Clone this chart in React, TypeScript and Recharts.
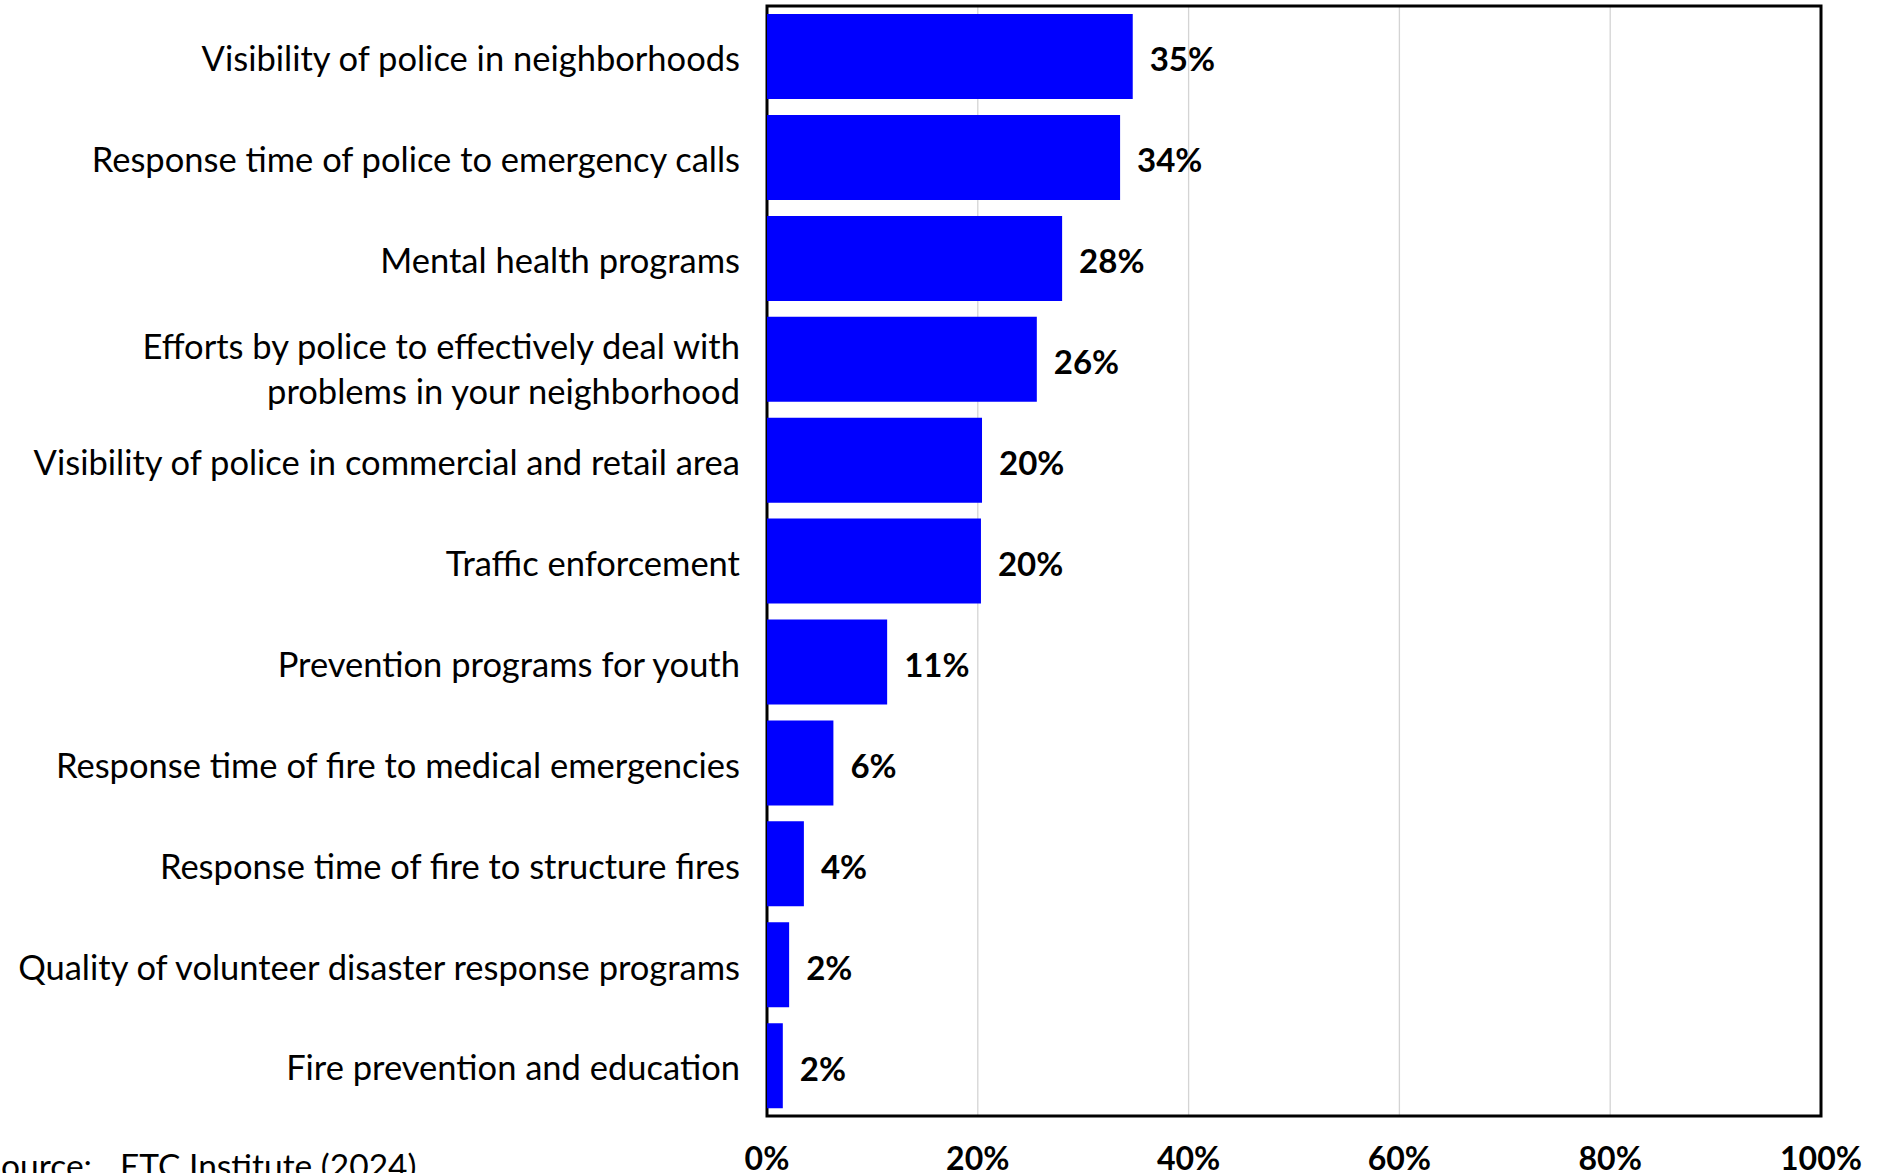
import { BarChart, Bar, XAxis, YAxis, CartesianGrid, LabelList, ReferenceArea } from "recharts";

const categories = [
  "Visibility of police in neighborhoods",
  "Response time of police to emergency calls",
  "Mental health programs",
  "Efforts by police to effectively deal with\nproblems in your neighborhood",
  "Visibility of police in commercial and retail area",
  "Traffic enforcement",
  "Prevention programs for youth",
  "Response time of fire to medical emergencies",
  "Response time of fire to structure fires",
  "Quality of volunteer disaster response programs",
  "Fire prevention and education",
];

const values = [34.7, 33.5, 28.0, 25.6, 20.4, 20.3, 11.4, 6.3, 3.5, 2.1, 1.5];

const xTicks = [0, 20, 40, 60, 80, 100];

const data = categories.map((name, i) => ({ name, value: values[i] }));

const FONT = "Lato, 'Open Sans', sans-serif";

function CategoryTick(props: any) {
  const { x, y, payload } = props;
  const lines = String(payload.value).split("\n");
  const lh = 45;
  // two-line label sits a little low in the original
  const start = y + 2.5 - ((lines.length - 1) * lh) / 2 + (lines.length > 1 ? 7 : 0);
  return (
    <text x={x} textAnchor="end" fontSize={34.5} fontFamily={FONT} fill="#000">
      {lines.map((l, i) => (
        <tspan key={i} x={x} y={start + i * lh} dy="0.36em">
          {l}
        </tspan>
      ))}
    </text>
  );
}

function PercentTick(props: any) {
  const { x, y, payload } = props;
  return (
    <text x={x} y={y + 54} textAnchor="middle" fontSize={32} fontWeight={700} fontFamily={FONT} fill="#000">
      {payload.value}%
    </text>
  );
}

function ValueLabel(props: any) {
  const { x, y, width, height, value } = props;
  return (
    <text
      x={x + width + 17}
      y={y + height / 2 + 3}
      dy="0.36em"
      fontSize={33}
      fontWeight={700}
      fontFamily={FONT}
      fill="#000"
    >
      {Math.round(value)}%
    </text>
  );
}

export default function App() {
  return (
    <div
      style={{
        position: "absolute",
        left: 0,
        top: 0,
        width: 1885,
        height: 1173,
        overflow: "hidden",
        background: "#fff",
        fontFamily: FONT,
      }}
    >
      <BarChart
        width={1885}
        height={1173}
        data={data}
        layout="vertical"
        margin={{ top: 6, right: 64, bottom: 0, left: 0 }}
        barCategoryGap="8%"
      >
        <CartesianGrid horizontal={false} stroke="#d4d4d4" strokeWidth={1.3} />
        <XAxis
          type="number"
          domain={[0, 100]}
          ticks={xTicks}
          interval={0}
          height={57}
          axisLine={false}
          tickLine={false}
          tickSize={0}
          tickMargin={0}
          tick={<PercentTick />}
        />
        <YAxis
          type="category"
          dataKey="name"
          width={767}
          interval={0}
          axisLine={false}
          tickLine={false}
          tickSize={0}
          tickMargin={27}
          tick={<CategoryTick />}
        />
        <Bar dataKey="value" fill="#0000ff" isAnimationActive={false}>
          <LabelList dataKey="value" content={<ValueLabel />} />
        </Bar>
        <ReferenceArea x1={0} x2={100} fill="none" stroke="#000" strokeWidth={3} ifOverflow="visible" />
      </BarChart>
      {/* source note, partly cut off at the page edge */}
      <div
        style={{
          position: "absolute",
          right: 1885 - 92,
          top: 1145,
          fontSize: 33.5,
          color: "#000",
          whiteSpace: "nowrap",
        }}
      >
        Source:
      </div>
      <div
        style={{
          position: "absolute",
          left: 120,
          top: 1145,
          fontSize: 33.5,
          color: "#000",
          whiteSpace: "nowrap",
        }}
      >
        ETC Institute (2024)
      </div>
    </div>
  );
}
